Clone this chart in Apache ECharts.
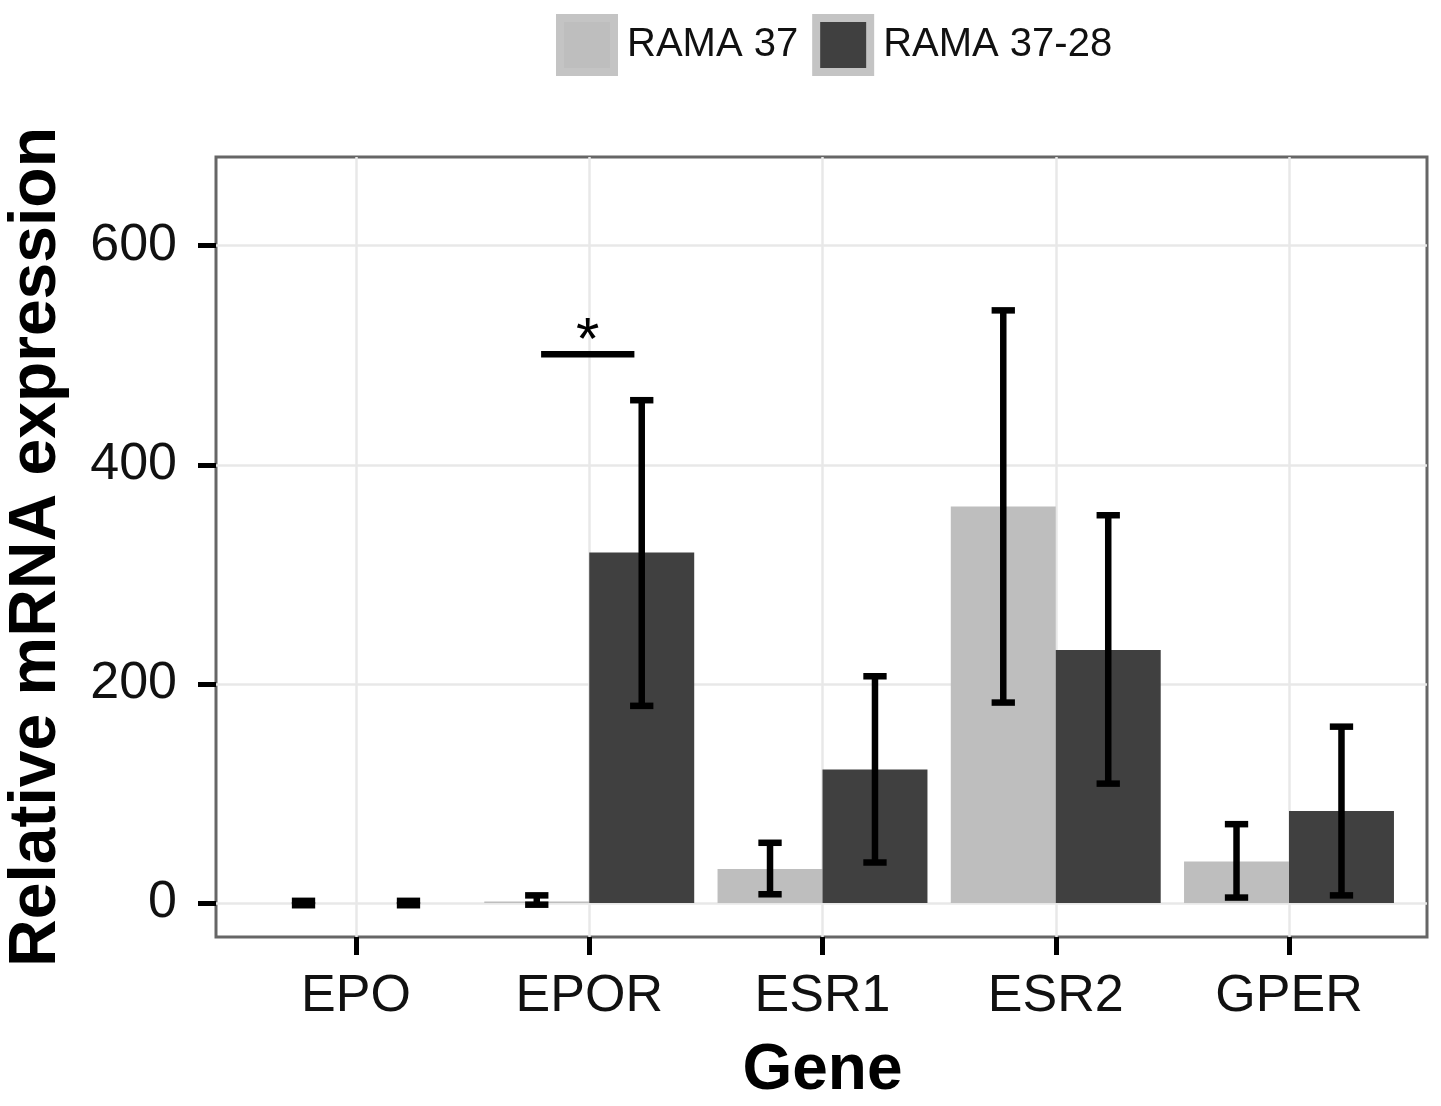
<!DOCTYPE html>
<html><head><meta charset="utf-8">
<script src="https://cdn.jsdelivr.net/npm/echarts@6/dist/echarts.min.js"></script>
<style>html,body{margin:0;padding:0;background:#fff}#c{width:1441px;height:1106px}</style>
</head><body><div id="c"></div>
<script>
const genes = ['EPO', 'EPOR', 'ESR1', 'ESR2', 'GPER'];
const seriesNames = ['RAMA 37', 'RAMA 37-28'];
const rama37Mean = [0, 1.5, 31, 362, 38];
const rama37Low = [-2, -1.5, 8, 183, 5];
const rama37High = [2, 7, 55, 541, 72];
const rama3728Mean = [0, 320, 122, 231, 84];
const rama3728Low = [-2, 180, 37, 109, 7];
const rama3728High = [2, 459, 207, 354, 161];
const yTicks = [0, 200, 400, 600];
const sigGene = ['EPOR'];
const sigY = [501];
const sigText = ['*'];

const FONT = '"Liberation Sans", Arial, Helvetica, sans-serif';
const Y_MIN = -31, Y_MAX = 681;

function errData(lo, hi) {
  return genes.map((g, i) => [i, lo[i], hi[i]]);
}
function errRender(offsetFrac) {
  return function (params, api) {
    const xi = api.value(0);
    const lo = api.value(1), hi = api.value(2);
    const band = api.size([1, 0])[0];
    const cx = api.coord([xi, 0])[0] + offsetFrac * band;
    const yl = api.coord([xi, lo])[1], yh = api.coord([xi, hi])[1];
    const hw = 0.05 * band;
    const st = { stroke: '#000', lineWidth: 6.5 };
    return {
      type: 'group', children: [
        { type: 'line', shape: { x1: cx, y1: yl, x2: cx, y2: yh }, style: st },
        { type: 'line', shape: { x1: cx - hw, y1: yl, x2: cx + hw, y2: yl }, style: st },
        { type: 'line', shape: { x1: cx - hw, y1: yh, x2: cx + hw, y2: yh }, style: st }
      ]
    };
  };
}

const chart = echarts.init(document.getElementById('c'));
chart.setOption({
  animation: false,
  backgroundColor: '#fff',
  textStyle: { fontFamily: FONT },
  legend: {
    data: seriesNames,
    left: 551, top: 9,
    itemWidth: 54, itemHeight: 54, itemGap: 14,
    icon: 'rect',
    itemStyle: { borderColor: '#c4c4c4', borderWidth: 8 },
    textStyle: { fontSize: 40, color: '#111', fontFamily: FONT, padding: [0, 0, 0, 8] }
  },
  grid: [
    { left: 216, right: 1441 - 1427, top: 157, bottom: 1106 - 937, outerBoundsMode: 'none', containLabel: false, show: true, borderColor: '#666', borderWidth: 3, backgroundColor: 'transparent' },
    { left: 356, right: 1441 - 1289, top: 157, bottom: 1106 - 937, outerBoundsMode: 'none', containLabel: false }
  ],
  xAxis: [
    { gridIndex: 0, type: 'value', min: 0, max: 1, show: false },
    {
      gridIndex: 1, type: 'category', data: genes, boundaryGap: false,
      axisLine: { show: false, onZero: false },
      axisTick: { show: true, length: 18, lineStyle: { color: '#000', width: 5 } },
      axisLabel: { fontSize: 52, color: '#111', margin: 34, fontFamily: FONT },
      splitLine: { show: true, lineStyle: { color: '#e8e8e8', width: 2.5 } },
      name: 'Gene', nameLocation: 'middle', nameGap: 102,
      nameTextStyle: { fontSize: 64, fontWeight: 'bold', color: '#000', fontFamily: FONT }
    }
  ],
  yAxis: [
    {
      gridIndex: 0, type: 'value', min: Y_MIN, max: Y_MAX, minInterval: 200, maxInterval: 200,
      axisLine: { show: false, onZero: false },
      axisTick: { show: true, length: 18, customValues: yTicks, lineStyle: { color: '#000', width: 5 } },
      axisLabel: { fontSize: 52, color: '#111', margin: 39, customValues: yTicks, fontFamily: FONT },
      splitLine: { show: true, lineStyle: { color: '#e8e8e8', width: 2.5 } },
      name: 'Relative mRNA expression', nameLocation: 'middle', nameGap: 146, nameRotate: 90,
      nameTextStyle: { fontSize: 66, fontWeight: 'bold', color: '#000', fontFamily: FONT }
    },
    { gridIndex: 1, type: 'value', min: Y_MIN, max: Y_MAX, show: false, splitLine: { show: false } }
  ],
  series: [
    { name: seriesNames[0], type: 'bar', xAxisIndex: 1, yAxisIndex: 1, data: rama37Mean, barWidth: '45%', barGap: '0%', clip: false, itemStyle: { color: '#bebebe' }, z: 2 },
    { name: seriesNames[1], type: 'bar', xAxisIndex: 1, yAxisIndex: 1, data: rama3728Mean, barWidth: '45%', barGap: '0%', clip: false, itemStyle: { color: '#404040' }, z: 2 },
    { type: 'custom', xAxisIndex: 1, yAxisIndex: 1, data: errData(rama37Low, rama37High), renderItem: errRender(-0.225), clip: false, z: 5 },
    { type: 'custom', xAxisIndex: 1, yAxisIndex: 1, data: errData(rama3728Low, rama3728High), renderItem: errRender(0.225), clip: false, z: 5 },
    {
      type: 'custom', xAxisIndex: 1, yAxisIndex: 1, clip: false, z: 6,
      data: sigGene.map((g, i) => [genes.indexOf(g), sigY[i], i]),
      renderItem: function (params, api) {
        const xi = api.value(0), yv = api.value(1), k = api.value(2);
        const band = api.size([1, 0])[0];
        const p = api.coord([xi, yv]);
        const cx = p[0] - 1.5;
        return {
          type: 'group', children: [
            { type: 'line', shape: { x1: cx - 0.2 * band, y1: p[1], x2: cx + 0.2 * band, y2: p[1] }, style: { stroke: '#000', lineWidth: 6.5 } },
            { type: 'text', x: cx, y: p[1] - 12, style: { text: sigText[k], fontSize: 60, fontFamily: FONT, fill: '#000', align: 'center', verticalAlign: 'middle' } }
          ]
        };
      }
    }
  ]
});
</script>
</body></html>
